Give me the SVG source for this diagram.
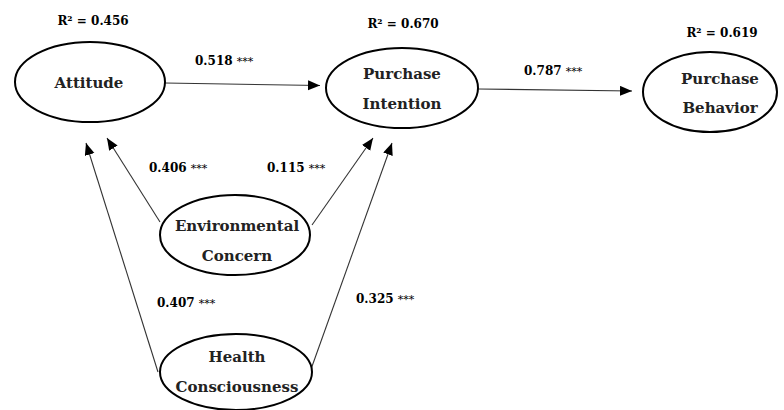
<svg xmlns="http://www.w3.org/2000/svg" width="784" height="410" viewBox="0 0 784 410">
<style>
.node{fill:#fff;stroke:#000;stroke-width:2}
.lbl{font-family:"DejaVu Serif","Liberation Serif",serif;font-weight:bold;font-size:15px;fill:#222;text-anchor:middle}
.r2{font-family:"DejaVu Serif","Liberation Serif",serif;font-weight:bold;font-size:12px;fill:#000;text-anchor:middle}
.coef{font-family:"DejaVu Serif","Liberation Serif",serif;font-weight:bold;font-size:12px;fill:#000}
.st{font-size:11px;font-weight:normal}
.edge{stroke:#333;stroke-width:1.1;fill:none;marker-end:url(#ah)}
</style>
<defs>
<marker id="ah" markerUnits="userSpaceOnUse" markerWidth="14" markerHeight="12" refX="12" refY="5" orient="auto">
<path d="M0,0 L12,5 L0,10 Z" fill="#000"/>
</marker>
</defs>
<rect width="784" height="410" fill="#fff"/>
<g id="connectors">
<line class="edge" x1="165" y1="83" x2="320" y2="85.5"/>
<line class="edge" x1="478" y1="89" x2="632" y2="91"/>
<line class="edge" x1="160" y1="222" x2="107" y2="138"/>
<line class="edge" x1="312" y1="225" x2="373" y2="138"/>
<line class="edge" x1="158" y1="372" x2="86" y2="143"/>
<line class="edge" x1="310" y1="372" x2="392" y2="143"/>
</g>
<g id="attitude">
<ellipse class="node" cx="90" cy="82" rx="75" ry="40"/>
<text class="lbl" x="89" y="88">Attitude</text>
<text class="r2" x="93" y="25">R² = 0.456</text>
</g>
<g id="purchase-intention">
<ellipse class="node" cx="402" cy="88" rx="76" ry="40"/>
<text class="lbl" x="402" y="79">Purchase</text>
<text class="lbl" x="402" y="109">Intention</text>
<text class="r2" x="403" y="28">R² = 0.670</text>
</g>
<g id="purchase-behavior">
<ellipse class="node" cx="710" cy="92" rx="67" ry="40"/>
<text class="lbl" x="720" y="84">Purchase</text>
<text class="lbl" x="720" y="113">Behavior</text>
<text class="r2" x="722" y="37">R² = 0.619</text>
</g>
<g id="environmental-concern">
<ellipse class="node" cx="235" cy="235" rx="75" ry="40"/>
<text class="lbl" x="237" y="231">Environmental</text>
<text class="lbl" x="237" y="261">Concern</text>
</g>
<g id="health-consciousness">
<ellipse class="node" cx="236" cy="372" rx="76" ry="38"/>
<text class="lbl" x="237" y="362">Health</text>
<text class="lbl" x="237" y="392">Consciousness</text>
</g>
<g id="coefficients">
<text class="coef" x="195" y="65">0.518 <tspan class="st">***</tspan></text>
<text class="coef" x="524" y="75">0.787 <tspan class="st">***</tspan></text>
<text class="coef" x="149" y="172">0.406 <tspan class="st">***</tspan></text>
<text class="coef" x="267" y="172">0.115 <tspan class="st">***</tspan></text>
<text class="coef" x="157" y="307">0.407 <tspan class="st">***</tspan></text>
<text class="coef" x="356" y="303">0.325 <tspan class="st">***</tspan></text>
</g>
</svg>
